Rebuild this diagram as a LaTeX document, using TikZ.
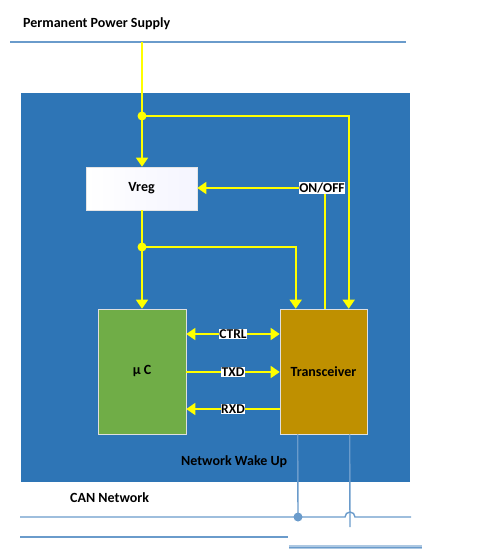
\documentclass[tikz,border=0pt]{standalone}
\usepackage{fontspec}
\setmainfont{Carlito}
\usetikzlibrary{arrows.meta,calc}
\definecolor{bgblue}{HTML}{2E75B6}
\definecolor{lineblue}{HTML}{6A9BCB}
\definecolor{ugreen}{HTML}{70AD47}
\definecolor{tgold}{HTML}{BF9000}
\definecolor{ylw}{HTML}{FFFF00}
\tikzset{
  txt/.style={font=\bfseries\fontsize{14}{16}\selectfont, text=black, inner sep=0pt},
  ywire/.style={draw=ylw, line width=1.6pt},
  yarrow/.style={ywire, -{Triangle[length=9pt,width=12pt]}},
  ydarrow/.style={ywire, {Triangle[length=9pt,width=12pt]}-{Triangle[length=9pt,width=12pt]}},
  lbl/.style={fill=white, font=\bfseries\fontsize{13.5}{15}\selectfont, inner xsep=0.5pt, inner ysep=1pt},
  bwire/.style={draw=lineblue, line width=1.4pt},
  dotw/.style={circle, fill=ylw, inner sep=0pt, minimum size=9pt},
  dotb/.style={circle, fill=lineblue, inner sep=0pt, minimum size=9pt},
}
\begin{document}
\begin{tikzpicture}[x=1pt,y=-1pt]
\useasboundingbox (0,0) rectangle (481,554);
% supply line
\node[txt, anchor=west] (pps) at (23,24) {Permanent Power Supply};
\coordinate (psl) at (10,42);
\coordinate (psr) at (406,42);
\draw[bwire] (psl) -- (psr);
% background
\fill[bgblue] (21,93) rectangle (410,482);
% boxes
\node[draw=white!80!gray, line width=0.6pt, left color=white, right color=blue!4, minimum width=111pt, minimum height=43pt, inner sep=0pt] (vreg) at (141.5,188.5) {};
\node[txt] at (vreg.center) {Vreg};
\node[draw=white!75!gray, line width=0.6pt, fill=ugreen, minimum width=88pt, minimum height=125pt, inner sep=0pt] (uc) at (142,371.5) {};
\node[txt] at (uc.center) {µ C};
\node[draw=white!75!gray, line width=0.6pt, fill=tgold, minimum width=87pt, minimum height=125pt, inner sep=0pt] (trx) at (323.5,371.5) {};
\node[txt] at (trx.center) {Transceiver};
% junctions
\coordinate (ps) at (142,42);
\node[dotw] (j1) at (142,116) {};
\node[dotw] (j2) at (142,247) {};
\draw[ywire] (ps) -- (j1.center);
\draw[yarrow] (j1.center) -- (vreg.north -| j1);
\draw[yarrow] (j1.center) -| ($(trx.north west)+(69,0)$);
\draw[ywire] (vreg.south -| j2) -- (j2.center);
\draw[yarrow] (j2.center) -- (uc.north -| j2);
\draw[yarrow] (j2.center) -| ($(trx.north west)+(16,0)$);
% ON/OFF
\node[lbl] (onoff) at (322,188) {ON/OFF};
\draw[yarrow] (onoff.west) -- (vreg.east |- onoff);
\draw[ywire] ($(trx.north west)+(45,0)$) -- (onoff.south -| {$(trx.north west)+(45,0)$});
% signals
\coordinate (ctrl) at (233,334);
\coordinate (txd) at (233,372);
\coordinate (rxd) at (233,409);
\draw[ydarrow] (uc.east |- ctrl) -- (trx.west |- ctrl);
\draw[yarrow] (uc.east |- txd) -- (trx.west |- txd);
\draw[yarrow] (trx.west |- rxd) -- (uc.east |- rxd);
\node[lbl] (ctrllbl) at (ctrl) {CTRL};
\node[lbl] (txdlbl) at (txd) {TXD};
\node[lbl] (rxdlbl) at (rxd) {RXD};
% labels
\node[txt, anchor=west] (nwu) at (181,462) {Network Wake Up};
\node[txt, anchor=west] (can) at (70,498) {CAN Network};
% CAN bus
\coordinate (c1l) at (20,517);
\coordinate (c1r) at (411,517);
\coordinate (c2l) at (20,537);
\coordinate (c2r) at (288,537);
\node[dotb] (jc) at (298,517) {};
\draw[bwire] ($(trx.south west)+(18,0)$) -- (jc.center);
\draw[bwire] ($(trx.south west)+(70,0)$) -- (350,527);
\draw[bwire] (c1l) -- (345,517) arc[start angle=180, end angle=360, radius=5] -- (c1r);
\draw[bwire] (c2l) -- (c2r);
\coordinate (c3l) at (289,547);
\coordinate (c3r) at (422,547);
\draw[draw=lineblue!55, line width=3.5pt] (c3l) -- (c3r);
\draw[draw=lineblue, line width=1pt] (c3l) -- (c3r);
\end{tikzpicture}
\end{document}
